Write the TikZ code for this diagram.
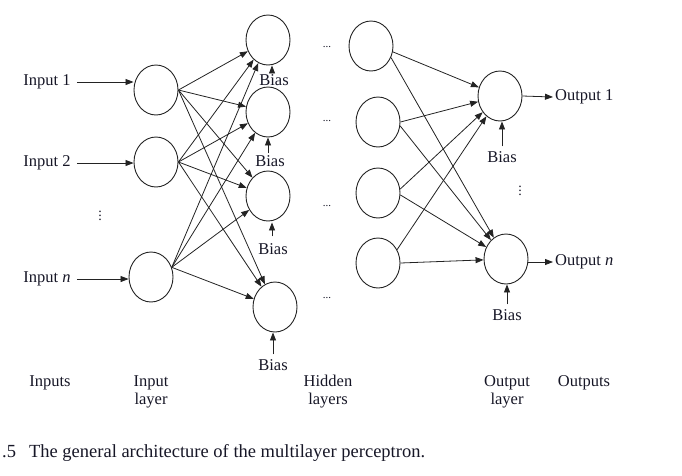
\documentclass[tikz,border=0pt]{standalone}
\usepackage{fontspec}
\setmainfont{Liberation Serif}
\usetikzlibrary{shapes.geometric,arrows.meta}
\definecolor{txt}{RGB}{22,22,38}
\definecolor{ln}{RGB}{35,35,35}
\begin{document}
\begin{tikzpicture}[x=1pt,y=-1pt,
  neuron/.style={ellipse,draw=ln,line width=0.9pt,minimum width=44pt,minimum height=50pt,inner sep=0pt},
  lbl/.style={text=txt,inner sep=2pt,font=\fontsize{16.5}{18}\selectfont},
  dotsh/.style={text=txt,inner sep=0pt,font=\fontsize{11}{11}\selectfont},
  dotsv/.style={text=txt,inner sep=0pt,font=\fontsize{14}{14}\selectfont},
  arr/.style={draw=ln,line width=0.8pt,-{Triangle[length=8pt,width=6pt]}}]
\path[use as bounding box] (0,0) rectangle (682,475);
% input layer
\node[neuron] (in1) at (156,90) {};
\node[neuron] (in2) at (156,162) {};
\node[neuron] (inn) at (151,277) {};
% hidden layer 1
\node[neuron] (h1) at (268,40) {};
\node[neuron] (h2) at (268,112) {};
\node[neuron] (h3) at (268,196) {};
\node[neuron] (h4) at (275,307) {};
% hidden layer 2
\node[neuron] (g1) at (371,46) {};
\node[neuron] (g2) at (378,122) {};
\node[neuron] (g3) at (378,193) {};
\node[neuron] (g4) at (378,263) {};
% output layer
\node[neuron] (o1) at (500,96) {};
\node[neuron] (on) at (506,259) {};
% input labels
\node[lbl] (l1) at (47,82) {Input 1};
\node[lbl] (l2) at (47,163) {Input 2};
\node[lbl] (ln) at (47,279) {Input \textit{n}};
\node[dotsv] (vd1) at (100,213) {\vdots};
\draw[arr,shorten <=4pt] (l1.east) -- (l1.east -| in1.west);
\draw[arr,shorten <=4pt] (l2.east) -- (l2.east -| in2.west);
\draw[arr,shorten <=4pt] (ln.east) -- (ln.east -| inn.west);
% input -> hidden 1
\foreach \t in {h1,h2,h3,h4}{
  \draw[arr] (in1.east) -- (\t);
  \draw[arr] (in2.east) -- (\t);
  \draw[arr] (inn.25) -- (\t);
}
% biases hidden 1
\node[lbl] (b1) at (274,80) {Bias};
\node[lbl] (b2) at (270,161) {Bias};
\node[lbl] (b3) at (273,249) {Bias};
\node[lbl] (b4) at (273,365) {Bias};
\draw[arr] (b1.north -| h1.south) ++(4,0) coordinate (b1s) -- (b1s |- h1.south);
\draw[arr] (b2.north -| h2.south) -- (h2.south);
\draw[arr] ([yshift=5pt]b3.north -| h3.south) ++(4,0) coordinate (b3s) -- ([yshift=-1pt]b3s |- h3.south);
\draw[arr] ([yshift=3pt]b4.north) -- (b4.north |- h4.south);
% horizontal dots
\node[dotsh] (d1) at (327,47) {...};
\node[dotsh] (d2) at (327,121) {...};
\node[dotsh] (d3) at (327,206) {...};
\node[dotsh] (d4) at (327,298) {...};
% hidden 2 -> output
\draw[arr] (g1.-15) -- (o1);
\draw[arr] (g1.-30) -- (on);
\draw[arr] (g2.east) -- (o1);
\draw[arr] (g2.-10) -- (on);
\draw[arr] (g3.10) -- (o1);
\draw[arr] (g3.-5) -- (on);
\draw[arr] (g4.35) -- (o1);
\draw[arr] (g4.east) -- (on);
% outputs
\node[lbl,anchor=west] (out1) at (553,97) {Output 1};
\node[lbl,anchor=west] (outn) at (553,262) {Output \textit{n}};
\draw[arr] (o1.east) -- (out1.west);
\draw[arr] (outn.west -| on.east) -- (outn.west);
\node[dotsv] (vd2) at (520,188) {\vdots};
\node[lbl] (bo1) at (502,157) {Bias};
\node[lbl] (bon) at (507,315) {Bias};
\draw[arr] ([yshift=3pt]bo1.north) -- (bo1.north |- o1.south);
\draw[arr] ([yshift=3pt]bon.north) -- (bon.north |- on.south);
% bottom labels
\node[lbl] (c1) at (50,383) {Inputs};
\node[lbl,align=center] (c2) at (151,392) {Input\\layer};
\node[lbl,align=center] (c3) at (328,392) {Hidden\\layers};
\node[lbl,align=center] (c4) at (507,392) {Output\\layer};
\node[lbl] (c5) at (584,383) {Outputs};
% caption
\node[text=txt,inner sep=0pt,anchor=west,font=\fontsize{18.5}{20}\selectfont] (cap) at (2,453) {.5\hspace{13pt}The general architecture of the multilayer perceptron.};
\end{tikzpicture}
\end{document}
